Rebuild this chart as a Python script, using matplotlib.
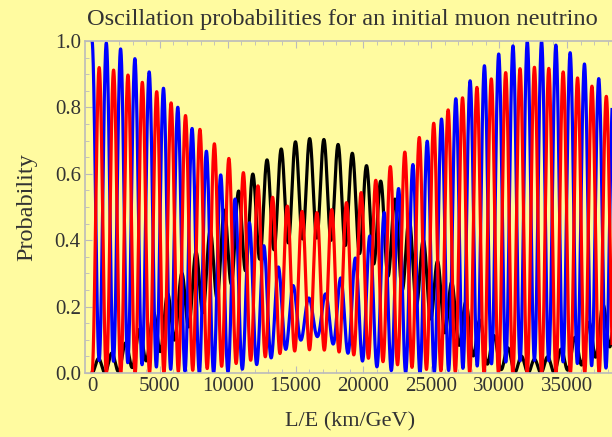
import numpy as np
import matplotlib
matplotlib.use("Agg")
import matplotlib.pyplot as plt
from matplotlib.ticker import MultipleLocator

# ==========================================
# 1. OSCILLATION PARAMETERS
# ==========================================
theta12_deg = 34.0
theta23_deg = 40.0
theta13_deg = 9.2
delta_cp = 0.0
dm21 = 7.59e-5     # eV^2, slow envelope (~32500 km/GeV period)
dm32 = 2.32e-3     # eV^2, fast wiggle (~1060 km/GeV period)

x_min, x_max = 0, 40000
n_pts = 30000

series_names = ["mu -> e", "mu -> mu", "mu -> tau"]
series_colors = ["black", "blue", "red"]

xticks = [0, 5000, 10000, 15000, 20000, 25000, 30000, 35000]
yticks = [0.0, 0.2, 0.4, 0.6, 0.8, 1.0]

# ==========================================
# 2. PMNS MATRIX & PROBABILITIES
# ==========================================
t12, t23, t13 = np.radians([theta12_deg, theta23_deg, theta13_deg])
s12, c12 = np.sin(t12), np.cos(t12)
s23, c23 = np.sin(t23), np.cos(t23)
s13, c13 = np.sin(t13), np.cos(t13)
ed = np.exp(1j * delta_cp)

U = np.array([
    [c12 * c13, s12 * c13, s13 / ed],
    [-s12 * c23 - c12 * s23 * s13 * ed, c12 * c23 - s12 * s23 * s13 * ed, s23 * c13],
    [s12 * s23 - c12 * c23 * s13 * ed, -c12 * s23 - s12 * c23 * s13 * ed, c23 * c13],
])

LE = np.linspace(x_min, x_max, n_pts)
masses = np.array([0.0, dm21, dm21 + dm32])
phase = np.exp(-1j * 2 * 1.267 * np.outer(LE, masses))

probs = []
for beta in range(3):
    a = (U[1].conj()[None, :] * U[beta][None, :] * phase).sum(axis=1)
    probs.append(np.abs(a) ** 2)

# ==========================================
# 3. PLOTTING
# ==========================================
bg = "#FFFBA0"
frame_col = "#BBBBBB"
text_col = "#333333"

plt.rcParams["font.family"] = ["Liberation Serif", "DejaVu Serif"]
fig = plt.figure(figsize=(6.12, 4.37), dpi=100, facecolor=bg)
ax = fig.add_axes([85 / 612, 1 - 373 / 437, 1 - 85 / 612, (373 - 41) / 437])
ax.set_facecolor(bg)

for p, c in zip(probs, series_colors):
    ax.plot(LE, p, color=c, lw=2.3, solid_joinstyle="round")

ax.set_xlim(-516, 38315)
ax.set_ylim(0, 1.0)
ax.set_xticks(xticks)
ax.set_yticks(yticks)
ax.set_yticklabels([f"{v:.1f}" for v in yticks])
ax.xaxis.set_minor_locator(MultipleLocator(1000))
ax.yaxis.set_minor_locator(MultipleLocator(0.05))
ax.tick_params(which="both", direction="in", color=frame_col, top=True, right=False,
               labelsize=15, labelcolor=text_col)
ax.tick_params(which="major", length=5, pad=3)
ax.tick_params(which="minor", length=3)
for side in ["left", "bottom", "top"]:
    ax.spines[side].set_color(frame_col)
    ax.spines[side].set_linewidth(1.2)
ax.spines["right"].set_visible(False)

ax.set_xlabel("L/E (km/GeV)", fontsize=16, color=text_col)
ax.set_ylabel("Probability", fontsize=17.5, color=text_col)
ax.xaxis.set_label_coords(0.503, -0.148)
ax.yaxis.set_label_coords(-0.110, 0.5)
ax.xaxis.label.set_va("center")
ax.yaxis.label.set_va("center")
fig.text(342 / 612, 1 - 20 / 437, "Oscillation probabilities for an initial muon neutrino",
         ha="center", va="center", fontsize=17.6, color=text_col)

fig.savefig("out.png", dpi=100, facecolor=bg)
